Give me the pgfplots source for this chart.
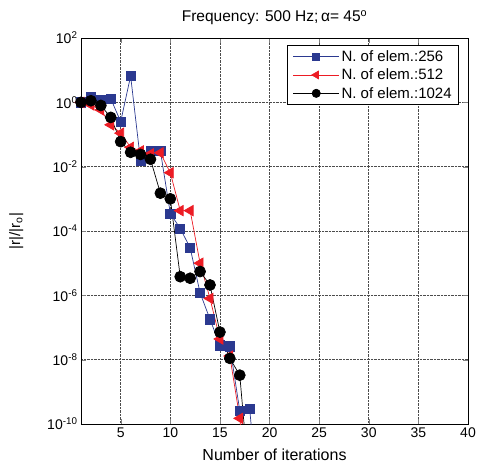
\documentclass[border=0pt]{standalone}
\usepackage{fontspec}
\setmainfont{Liberation Sans}
\usepackage{pgfplots}
\pgfplotsset{compat=1.18}
\definecolor{elemblue}{HTML}{2B3990}
\definecolor{elemred}{HTML}{EC1C24}

\begin{document}
\begin{tikzpicture}
\begin{axis}[
  at={(0pt,0pt)}, anchor=south west,
  scale only axis, width=387pt, height=386pt,
  font=\fontsize{14}{16}\selectfont,
  tick label style={font=\fontsize{14}{16}\selectfont},
  ymode=log, log basis y=10,
  xmin=1, xmax=40, ymin=1e-10, ymax=1e2,
  xtick={5,10,...,40},
  ytick={1e-10,1e-8,1e-6,1e-4,1e-2,1e0,1e2},
  yticklabel={\pgfmathtruncatemacro{\e}{round(\tick)}10\textsuperscript{\e}},
  /pgf/number format/assume math mode=true,
  tick align=inside, major tick length=5pt, minor tick num=0,
  grid=major, major grid style={densely dotted, black!70, line width=0.6pt},
  axis line style={line width=0.9pt},
  title={Frequency: 500 Hz;\,α= 45\textsuperscript{o}},
  title style={yshift=4pt, font=\fontsize{15.5}{18}\selectfont},
  xlabel={Number of iterations},
  xlabel style={at={(axis description cs:0.5,-0.055)}, anchor=north,
    font=\fontsize{16}{18}\selectfont},
  ylabel={|r|/|r\textsubscript{o}|},
  ylabel style={at={(axis description cs:-0.14,0.5)}, anchor=south,
    font=\fontsize{15}{17}\selectfont},
  legend cell align=left,
  legend style={at={(0.977,0.982)}, anchor=north east, draw=black,
    line width=0.9pt, inner xsep=5pt, inner ysep=3pt, row sep=2pt,
    font=\fontsize{15}{17}\selectfont},
  legend image code/.code={
    \draw[#1] (0pt,0pt) -- (46pt,0pt);
    \draw[#1, only marks, every mark/.append style={scale=0.75}]
      plot coordinates {(23pt,0pt)};
  },
]
\addplot[color=elemblue, line width=0.7pt, mark=square*, mark size=4.6pt,
  mark options={solid, fill=elemblue}] coordinates {
  (1,1.0) (2,1.5) (3,1.17) (4,1.3) (5,0.25) (6,6.6) (7,0.015) (8,0.031)
  (9,0.031) (10,3.5e-4) (11,1.2e-4) (12,3e-5) (13,1.2e-6) (14,1.8e-7)
  (15,2.8e-8) (16,2.6e-8) (17,2.6e-10) (18,3e-10) (19,1e-13)
};
\addlegendentry{N. of elem.:256}
\addplot[color=elemred, line width=0.7pt, mark=triangle*, mark size=6pt,
  mark options={solid, fill=elemred, rotate=90}] coordinates {
  (1,1.0) (2,0.83) (3,0.58) (4,0.2) (5,0.11) (6,0.04) (7,0.031) (8,0.025)
  (9,0.027) (10,6.5e-3) (11,4.3e-4) (12,4.3e-4) (13,1e-5) (14,8e-7)
  (15,4.4e-8) (16,1.3e-8) (17,1.5e-10) (18,1e-13)
};
\addlegendentry{N. of elem.:512}
\addplot[color=black, line width=0.7pt, mark=*, mark size=5.5pt,
  mark options={solid, fill=black}] coordinates {
  (1,1.0) (2,1.12) (3,0.8) (4,0.34) (5,0.06) (6,0.028) (7,0.024) (8,0.017)
  (9,1.5e-3) (10,1e-3) (11,3.8e-6) (12,3.4e-6) (13,5.5e-6) (14,2.1e-6)
  (15,7.2e-8) (16,1.1e-8) (17,3.3e-9) (18,1e-12)
};
\addlegendentry{N. of elem.:1024}
\end{axis}
\pgfresetboundingbox
\path (-81pt,-45pt) rectangle (397pt,424pt);
\end{tikzpicture}
\end{document}
